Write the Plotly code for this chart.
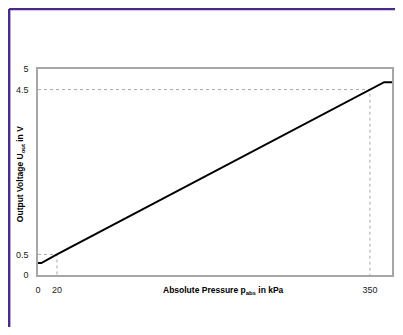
import plotly.graph_objects as go

# -------- Données --------
pressure_kpa = [0, 3.5, 20, 350, 365, 380]
voltage_v = [0.29, 0.29, 0.5, 4.5, 4.68, 4.68]

# repères pointillés (p, U)
ref_p = [20, 350]
ref_u = [0.5, 4.5]

x_ticks = [0, 20, 350]
y_ticks = [0, 0.5, 4.5, 5]
y_ticklabels = ["0", "0.5", "4.5", "5"]

FONT = "Liberation Sans, Arial, sans-serif"
REF_COLOR = "#a8a8a8"
FRAME_COLOR = "#a6a6a6"
PURPLE = "#4b2a8c"

fig = go.Figure()

# lignes de repère : horizontale depuis l'axe Y, verticale depuis l'axe X
for p, u in zip(ref_p, ref_u):
    fig.add_trace(go.Scatter(
        x=[0, p, p], y=[u, u, 0], mode="lines",
        line=dict(color=REF_COLOR, width=1, dash="dot"),
        hoverinfo="skip", showlegend=False,
    ))

# courbe principale
fig.add_trace(go.Scatter(
    x=pressure_kpa, y=voltage_v, mode="lines",
    line=dict(color="#000000", width=2),
    showlegend=False,
))

fig.update_xaxes(
    range=[0, 373.3], tickvals=x_ticks, ticktext=[str(v) for v in x_ticks],
    showgrid=False, zeroline=False, ticks="",
    showline=True, mirror=True, linecolor=FRAME_COLOR, linewidth=1.5,
    tickfont=dict(family=FONT, size=9, color="#222"),
    ticklabelstandoff=5,
)
fig.update_yaxes(
    range=[0, 5], tickvals=y_ticks, ticktext=y_ticklabels,
    showgrid=False, zeroline=False, ticks="",
    showline=True, mirror=True, linecolor=FRAME_COLOR, linewidth=1.5,
    tickfont=dict(family=FONT, size=9, color="#222"),
    ticklabelstandoff=6,
)

# la page ajoute une marge de 8 px tout autour : figure réduite d'autant
fig.update_layout(
    width=387, height=319,
    margin=dict(l=30, r=1, t=61, b=52),
    paper_bgcolor="white", plot_bgcolor="white",
    annotations=[
        dict(text="<b>Absolute Pressure p<sub>abs</sub> in kPa</b>",
             xref="paper", yref="paper", x=0.525, y=-0.073,
             xanchor="center", yanchor="middle", showarrow=False,
             font=dict(family=FONT, size=8.5, color="#000")),
        dict(text="<b>Output Voltage U<sub>out</sub> in V</b>",
             xref="paper", yref="paper", x=-0.0506, y=0.49,
             xanchor="center", yanchor="middle", showarrow=False, textangle=-90,
             font=dict(family=FONT, size=8.5, color="#000")),
    ],
    shapes=[
        # cadre violet (gauche + haut)
        dict(type="line", xref="paper", yref="paper",
             x0=-0.0815, x1=-0.0815, y0=1.291, y1=-0.4,
             line=dict(color=PURPLE, width=2.5)),
        dict(type="line", xref="paper", yref="paper",
             x0=-0.0815, x1=1.1, y0=1.291, y1=1.291,
             line=dict(color=PURPLE, width=2.5)),
    ],
)

fig.write_html("out.html")
